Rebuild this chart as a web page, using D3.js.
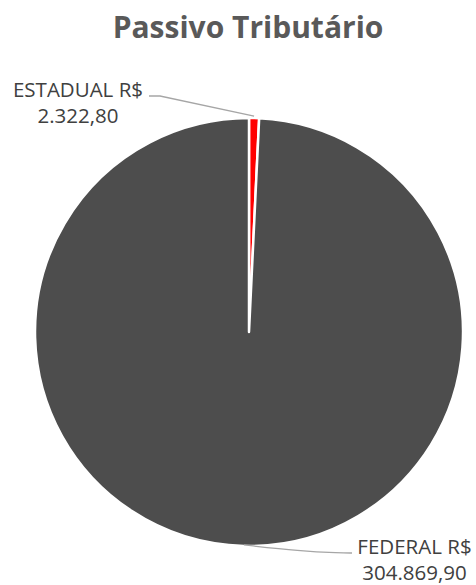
<!DOCTYPE html>
<html><head><meta charset="utf-8">
<script src="https://cdn.jsdelivr.net/npm/d3@7"></script>
<style>body{margin:0;background:#fff}</style>
</head><body>
<svg id="c" width="476" height="585"></svg>
<script>
const categories = ["ESTADUAL", "FEDERAL"];
const values = [2322.80, 304869.90];
const valueLabels = ["2.322,80", "304.869,90"];
const colors = ["#ff0000", "#4d4d4d"];

const svg = d3.select("#c");
const cx = 249, cy = 332, r = 214;
const font = "'Open Sans', sans-serif";

svg.append("text").attr("x", 248).attr("y", 38).attr("text-anchor", "middle")
  .attr("font-family", font).attr("font-weight", "bold").attr("font-size", 30)
  .attr("fill", "#595959").text("Passivo Tributário");

const pie = d3.pie().sort(null).value(d => d)(values);
const arc = d3.arc().innerRadius(0).outerRadius(r);
const g = svg.append("g").attr("transform", `translate(${cx},${cy})`);
g.selectAll("path").data(pie).join("path")
  .attr("d", arc).attr("fill", (d, i) => colors[i])
  .attr("stroke", "#fff").attr("stroke-width", 2.5).attr("stroke-linejoin", "round");

// leader lines
const est = pie[0], fed = pie[1];
const ma = a => [Math.sin(a) * r, -Math.cos(a) * r];
const pe = ma((est.startAngle + est.endAngle) / 2);
const pf = ma((fed.startAngle + fed.endAngle) / 2);
svg.append("path").attr("d", d3.line()([[cx + pe[0], cy + pe[1] - 2], [160, 96], [149, 96]]))
  .attr("fill", "none").attr("stroke", "#a6a6a6").attr("stroke-width", 1.3);
svg.append("path").attr("d", d3.line().curve(d3.curveBasis)([[cx + pf[0], cy + pf[1] - 1], [300, 551], [340, 553], [352, 553]]))
  .attr("fill", "none").attr("stroke", "#a6a6a6").attr("stroke-width", 1.3);

const lab = [
  {x: 78, y: 97, t: [categories[0] + " R$", valueLabels[0]]},
  {x: 414.5, y: 554, t: [categories[1] + " R$", valueLabels[1]]}
];
lab.forEach(l => {
  const t = svg.append("text").attr("x", l.x).attr("y", l.y).attr("text-anchor", "middle")
    .attr("font-family", font).attr("font-size", 20.5).attr("fill", "#404040");
  t.append("tspan").attr("x", l.x).text(l.t[0]);
  t.append("tspan").attr("x", l.x).attr("dy", 26).text(l.t[1]);
});
</script>
</body></html>
